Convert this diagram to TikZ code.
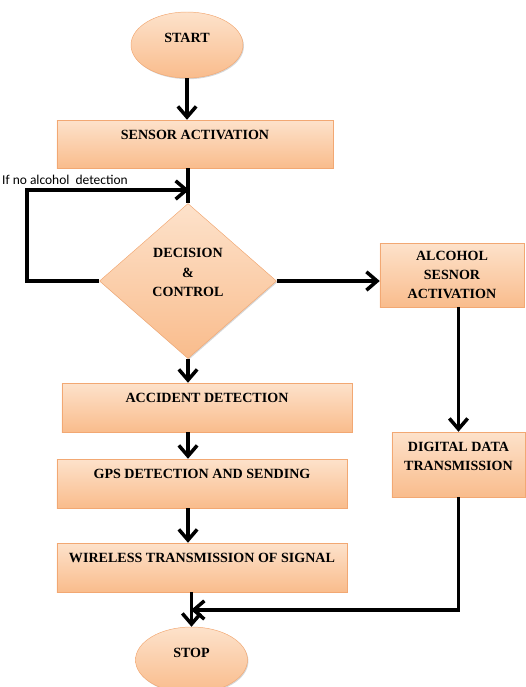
\documentclass[tikz,border=0pt]{standalone}
\usepackage{fontspec}
\setmainfont{Liberation Serif}
\newfontfamily\notefont{Carlito}
\usetikzlibrary{shapes.geometric,arrows.meta,shadows}
\definecolor{peachtop}{HTML}{FDE2CB}
\definecolor{peachbot}{HTML}{F9BC8C}
\definecolor{peachline}{HTML}{F2A873}
\begin{document}
\begin{tikzpicture}[x=0.03cm,y=-0.03cm,
  flowshape/.style={draw=peachline,thin,top color=peachtop,bottom color=peachbot,
    drop shadow={shadow xshift=0.8pt,shadow yshift=-1pt,fill=black!40,opacity=0.4},
    font=\bfseries\fontsize{12}{16.5}\selectfont,align=center,inner sep=0pt},
  procbox/.style={flowshape,rectangle,text depth=0.57cm},
  termnode/.style={flowshape,ellipse,minimum width=3.36cm,minimum height=1.98cm,text depth=0.42cm},
  decidenode/.style={flowshape,diamond,minimum width=5.31cm,minimum height=4.65cm},
  flowarrow/.style={line width=3pt,-{Straight Barb[length=3.2mm,width=5.5mm]}}]
\useasboundingbox (0,0) rectangle (526,687);
\node[termnode] (start) at (187,45) {START};
\node[procbox,minimum width=8.28cm,minimum height=1.44cm] (sensor) at (195,144) {SENSOR ACTIVATION};
\node[decidenode,text depth=0.5cm] (decide) at (188,281) {DECISION\\\&\\CONTROL};
\node[flowshape,rectangle,minimum width=4.32cm,minimum height=1.92cm] (alcohol) at (452,275) {ALCOHOL\\SESNOR\\ACTIVATION};
\node[procbox,minimum width=8.7cm,minimum height=1.47cm] (accident) at (207,407.5) {ACCIDENT DETECTION};
\node[procbox,minimum width=8.7cm,minimum height=1.47cm] (gps) at (202,483.5) {GPS DETECTION AND SENDING};
\node[procbox,minimum width=8.7cm,minimum height=1.47cm] (wireless) at (202,567.5) {WIRELESS TRANSMISSION OF SIGNAL};
\node[flowshape,rectangle,minimum width=3.99cm,minimum height=1.95cm,text depth=0.5cm] (digital) at (458.5,464.5) {DIGITAL DATA\\TRANSMISSION};
\node[termnode] (stop) at (191.5,660) {STOP};
\node[font=\notefont\fontsize{11.5}{13}\selectfont,anchor=west,inner sep=0pt] (note) at (2,180) {If no alcohol\ \ detection};
\coordinate (loopturn) at (27,281);
\coordinate (loopin) at (189,190);
\coordinate (merge) at (191,610);
\draw[flowarrow] (start.south) -- (start.south |- sensor.north);
\draw[line width=3pt] (decide.north |- sensor.south) -- (decide.north);
\draw[flowarrow] (decide.west) -- (loopturn) |- (loopin);
\draw[flowarrow] (decide.east) -- (alcohol.west |- decide.east);
\draw[flowarrow] (decide.south) -- (decide.south |- accident.north);
\draw[flowarrow] (decide.south |- accident.south) -- (decide.south |- gps.north);
\draw[flowarrow] (decide.south |- gps.south) -- (decide.south |- wireless.north);
\draw[flowarrow] (stop.north |- wireless.south) -- (stop.north);
\draw[flowarrow] (digital.north |- alcohol.south) -- (digital.north);
\draw[flowarrow] (digital.south) |- (merge);
\end{tikzpicture}
\end{document}
